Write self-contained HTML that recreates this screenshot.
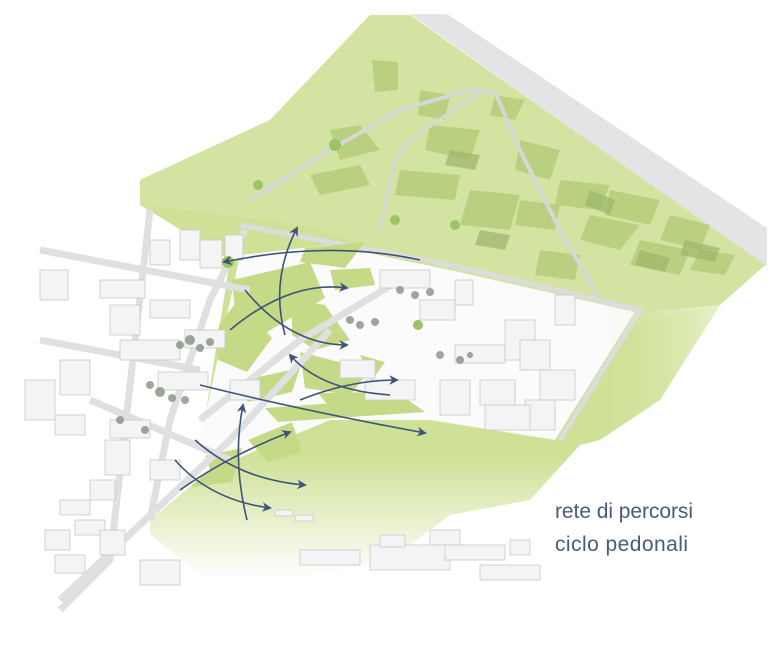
<!DOCTYPE html><html><head><meta charset="utf-8"><style>html,body{margin:0;padding:0;background:#fff}svg{display:block}</style></head><body>
<svg width="779" height="650" viewBox="0 0 779 650" xmlns="http://www.w3.org/2000/svg">
<defs>
<marker id="ah" viewBox="0 0 10 10" refX="8" refY="5" markerWidth="6" markerHeight="6" orient="auto"><path d="M0,0 L10,5 L0,10 L3,5z" fill="#3e5478"/></marker>
<linearGradient id="fadeB" x1="0" y1="0" x2="0" y2="1"><stop offset="0.78" stop-color="#cfe196"/><stop offset="1" stop-color="#fff"/></linearGradient>
<linearGradient id="fadeR" x1="0" y1="0" x2="1" y2="0"><stop offset="0" stop-color="#d6e6a4" stop-opacity="0"/><stop offset="1" stop-color="#fff"/></linearGradient>
</defs>
<polygon points="410,14 447,14 767,228 767,267" fill="#e4e4e6"/>
<polygon points="370,15 410,15 765,265 720,305 660,400 600,440 580,445 530,500 450,515 390,560 280,580 200,575 145,530 150,480 200,450 230,260 140,205 140,180 270,120" fill="url(#fadeB)"/>
<polygon points="370,15 410,15 765,265 720,305 650,320 560,300 450,270 300,225 140,205 140,180 270,120" fill="#d3e4a2"/>
<g fill="#b5cc7a" opacity="0.8">
<polygon points="372,60 398,62 398,90 375,92"/>
<polygon points="330,130 360,125 380,150 340,160"/>
<polygon points="310,175 360,165 370,185 320,195"/>
<polygon points="420,90 450,95 445,120 418,115"/>
<polygon points="430,125 480,130 470,160 425,150"/>
<polygon points="400,170 460,175 455,200 395,195"/>
<polygon points="470,190 520,195 510,230 460,225"/>
<polygon points="520,140 560,150 550,180 515,170"/>
<polygon points="560,180 610,185 600,210 555,205"/>
<polygon points="590,215 640,225 620,250 580,240"/>
<polygon points="610,190 660,200 650,225 605,215"/>
<polygon points="640,240 690,250 680,275 630,265"/>
<polygon points="670,215 710,225 700,250 660,240"/>
<polygon points="700,250 735,255 725,275 690,270"/>
<polygon points="495,95 525,100 515,120 490,115"/>
<polygon points="540,250 580,255 575,280 535,275"/>
<polygon points="520,200 560,205 555,230 515,225"/>
</g>
<g fill="#9cb56a" opacity="0.7">
<polygon points="450,150 480,155 475,170 445,165"/>
<polygon points="590,190 615,200 610,215 585,205"/>
<polygon points="640,250 670,258 665,272 635,265"/>
<polygon points="480,230 510,235 505,250 475,245"/>
<polygon points="685,240 720,248 715,262 680,255"/>
</g>
<path d="M250,200 L330,150 L400,110 L470,90 L495,92 L520,150 L560,230 L600,300" fill="none" stroke="#d7d7d7" stroke-width="4"/>
<path d="M380,230 L395,160 L410,140 L480,92" fill="none" stroke="#d7d7d7" stroke-width="3"/>
<path d="M240,225 L450,265 L640,310 L560,440" fill="none" stroke="#dcdcdc" stroke-width="5"/>
<polygon points="240,255 330,245 450,270 635,312 555,440 430,420 330,420 210,470 200,440" fill="#fbfbfb"/>
<g fill="#c5da86">
<polygon points="232,280 310,262 325,298 262,335 235,310"/>
<polygon points="305,248 365,242 345,268 300,262"/>
<polygon points="292,300 325,305 350,340 315,350 292,335"/>
<polygon points="215,330 238,300 272,338 247,372 218,360"/>
<polygon points="300,352 370,370 350,395 305,388"/>
<polygon points="235,382 300,368 292,392 248,402"/>
<polygon points="360,355 385,362 372,380"/>
<polygon points="265,408 405,398 425,412 278,422"/>
<polygon points="318,393 385,392 392,404 330,408"/>
<polygon points="248,440 292,422 302,452 268,462"/>
<polygon points="195,458 242,448 232,482 192,487"/>
<polygon points="330,270 370,268 375,285 335,290"/>
</g>
<polygon points="0,210 140,205 230,260 200,440 210,470 150,520 150,600 60,620 0,620" fill="#fff"/>
<g stroke="#e0e0e2" stroke-width="7" fill="none">
<path d="M40,250 L250,290"/><path d="M150,210 L110,560 L60,610"/><path d="M245,230 L210,300 L170,420 L150,520"/>
<path d="M40,340 L200,370"/><path d="M90,400 L230,460"/><path d="M60,600 L230,440 L330,330"/>
<path d="M200,420 L300,340 L400,280"/>
</g>
<g fill="#f4f4f5" stroke="#c9c9cc" stroke-width="0.8">
<rect x="40" y="270" width="28" height="30"/><rect x="100" y="280" width="45" height="18"/>
<rect x="110" y="305" width="30" height="30"/><rect x="150" y="300" width="40" height="18"/>
<rect x="150" y="240" width="20" height="25"/><rect x="180" y="230" width="20" height="30"/>
<rect x="200" y="240" width="22" height="28"/><rect x="225" y="235" width="18" height="25"/>
<rect x="185" y="330" width="40" height="18"/><rect x="120" y="340" width="60" height="20"/>
<rect x="60" y="360" width="30" height="35"/><rect x="25" y="380" width="30" height="40"/>
<rect x="55" y="415" width="30" height="20"/><rect x="110" y="420" width="40" height="18"/>
<rect x="105" y="440" width="25" height="35"/><rect x="150" y="460" width="30" height="20"/>
<rect x="60" y="500" width="30" height="15"/><rect x="75" y="520" width="30" height="15"/>
<rect x="45" y="530" width="25" height="20"/><rect x="55" y="555" width="30" height="18"/>
<rect x="100" y="530" width="25" height="25"/><rect x="230" y="380" width="30" height="20"/>
<rect x="158" y="372" width="50" height="18"/><rect x="140" y="560" width="40" height="25"/>
<rect x="90" y="480" width="25" height="20"/>
<rect x="455" y="280" width="18" height="25"/><rect x="555" y="295" width="20" height="30"/>
<rect x="505" y="320" width="30" height="40"/><rect x="420" y="300" width="35" height="20"/>
<rect x="380" y="270" width="50" height="18"/><rect x="455" y="345" width="50" height="18"/>
<rect x="520" y="340" width="30" height="30"/><rect x="540" y="370" width="35" height="30"/>
<rect x="480" y="380" width="35" height="25"/><rect x="525" y="400" width="30" height="30"/>
<rect x="485" y="405" width="45" height="25"/><rect x="440" y="380" width="30" height="35"/>
<rect x="365" y="380" width="50" height="20"/><rect x="340" y="360" width="35" height="18"/>
<rect x="300" y="550" width="60" height="15"/><rect x="370" y="545" width="80" height="25"/>
<rect x="445" y="545" width="60" height="15"/><rect x="480" y="565" width="60" height="15"/>
<rect x="430" y="530" width="30" height="15"/><rect x="380" y="535" width="25" height="12"/>
<rect x="510" y="540" width="20" height="15"/><rect x="275" y="510" width="18" height="6"/><rect x="295" y="515" width="18" height="6"/>
</g>
<g fill="#7e8a7a" opacity="0.75">
<circle cx="180" cy="345" r="4"/><circle cx="190" cy="340" r="5"/><circle cx="200" cy="348" r="4"/><circle cx="210" cy="342" r="4"/>
<circle cx="150" cy="385" r="4"/><circle cx="160" cy="392" r="5"/><circle cx="172" cy="398" r="4"/><circle cx="185" cy="400" r="4"/>
<circle cx="120" cy="420" r="4"/><circle cx="145" cy="430" r="4"/>
<circle cx="350" cy="320" r="4"/><circle cx="360" cy="325" r="4"/><circle cx="375" cy="322" r="4"/>
<circle cx="400" cy="290" r="4"/><circle cx="415" cy="295" r="4"/><circle cx="430" cy="292" r="4"/>
<circle cx="440" cy="355" r="4"/><circle cx="460" cy="360" r="4"/><circle cx="470" cy="355" r="3"/>
</g>
<g fill="#9cc464"><circle cx="228" cy="262" r="6"/><circle cx="335" cy="145" r="6"/><circle cx="258" cy="185" r="5"/><circle cx="418" cy="325" r="5"/><circle cx="395" cy="220" r="5"/><circle cx="455" cy="225" r="5"/></g>
<polygon points="600,300 640,312 720,305 660,400 600,440" fill="url(#fadeR)" opacity="0.5"/>
<g fill="none" stroke="#3e5478" stroke-width="1.6" marker-end="url(#ah)">
<path d="M420,260 Q330,240 224,262"/>
<path d="M285,335 Q270,280 297,228"/>
<path d="M230,330 Q290,280 347,288"/>
<path d="M245,290 Q290,345 347,345"/>
<path d="M390,395 Q320,390 290,355"/>
<path d="M300,400 Q350,380 397,380"/>
<path d="M200,385 Q300,410 425,433"/>
<path d="M247,520 Q232,460 243,405"/>
<path d="M180,490 Q230,455 290,432"/>
<path d="M195,440 Q240,480 305,485"/>
<path d="M175,460 Q210,500 270,508"/>
</g>
<text x="555" y="518" font-family="Liberation Sans, sans-serif" font-size="21" fill="#4a5b78" textLength="138">rete di percorsi</text>
<text x="555" y="551" font-family="Liberation Sans, sans-serif" font-size="21" fill="#4a5b78" textLength="133">ciclo pedonali</text>
</svg>
</body></html>
